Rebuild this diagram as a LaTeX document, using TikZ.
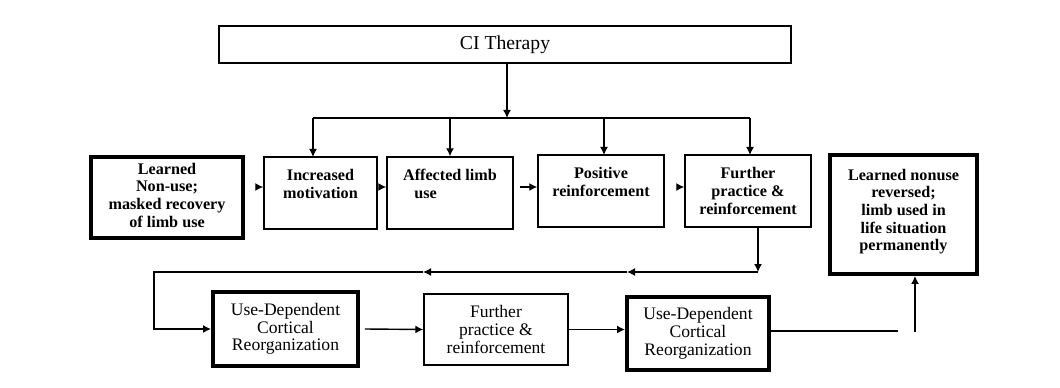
\documentclass[tikz,border=0pt]{standalone}
\usepackage{fontspec}
\setmainfont{Liberation Serif}
\usetikzlibrary{positioning,arrows.meta}
\begin{document}
\begin{tikzpicture}[x=0.025cm,y=-0.025cm]
        \tikzset{box/.style={draw,line width=1pt,align=center,inner sep=0pt},
                 heavy/.style={box,line width=2.8pt},
                 bfont/.style={font=\fontsize{11.5}{12.6}\selectfont\bfseries},
                 rfont/.style={font=\fontsize{12.5}{12.6}\selectfont},
                 arr/.style={line width=1pt,-{Latex[length=2mm,width=2mm]}}};
        \useasboundingbox (0,0) rectangle (1060,388);
        % top of the diagram
        \node[box,minimum width=14.3cm,minimum height=0.925cm,font=\fontsize{14}{15}\selectfont] (ci) at (505,44.5) {CI Therapy};
        \node[heavy,bfont,minimum width=3.8cm,minimum height=2.025cm] (lnu) at (167,197.5) {~\\[-8pt]Learned\\Non-use;\\masked recovery\\of limb use};
        \node[box,bfont,minimum width=2.825cm,minimum height=1.8cm] (inc) at (320.5,193) {Increased\\motivation\\~};
        \node[box,bfont,minimum width=3.15cm,minimum height=1.8cm,align=left] (aff) at (450,193) {Affected limb\\\hspace*{0.7em}use\\~};
        \node[box,bfont,minimum width=3.15cm,minimum height=1.8cm] (pos) at (601,191) {Positive\\reinforcement\\~};
        \node[box,bfont,minimum width=3.15cm,minimum height=1.8cm] (fpr) at (748,191) {Further\\practice \&\\reinforcement};
        \node[heavy,bfont,minimum width=3.675cm,minimum height=2.975cm] (rev) at (903.5,214.5) {Learned nonuse\\reversed;\\limb used in\\life situation\\permanently\\[-6pt]~};
        % bottom row
        \node[heavy,rfont,minimum width=3.625cm,minimum height=1.85cm] (udc1) at (285.5,329) {Use-Dependent\\Cortical\\Reorganization};
        \node[box,rfont,minimum width=3.6cm,minimum height=1.775cm] (fp2) at (496,329.5) {Further\\practice \&\\reinforcement};
        \node[heavy,rfont,minimum width=3.55cm,minimum height=1.825cm] (udc2) at (698,333.5) {Use-Dependent\\Cortical\\Reorganization};
        % branching from CI Therapy
        \coordinate (split) at (507,118);
        \draw[arr] (ci.south -| split) -- (split);
        \draw[line width=1pt] (313,118) -- (750,118);
        \draw[arr] (313,118) -- (313,157);
        \draw[arr] (450,118) -- (aff.north);
        \draw[arr] (604,118) -- (604,155);
        \draw[arr] (750,118) -- (750,155);
        % first row
        \coordinate (r1) at (0,187);
        \draw[arr] ([xshift=0.3cm]lnu.east |- r1) -- (inc.west |- r1);
        \draw[arr] ([xshift=0.15cm]inc.east |- r1) -- (aff.west |- r1);
        \draw[arr] ([xshift=0.15cm]aff.east |- r1) -- (pos.west |- r1);
        \draw[arr] ([xshift=0.3cm]pos.east |- r1) -- (fpr.west |- r1);
        % loop back
        \coordinate (loopR) at (758,272);
        \coordinate (midA) at (627,272);
        \coordinate (midB) at (423,272);
        \coordinate (loopL) at (154,272);
        \draw[arr] (loopR |- fpr.south) -- (loopR);
        \draw[arr] (loopR) -- (midA);
        \draw[arr] (midA) -- (midB);
        \draw[arr] (midB) -- (loopL) |- (udc1.west);
        % second row
        \draw[arr] ([xshift=0.125cm]udc1.east) -- (fp2.west);
        \draw[arr] (fp2.east) -- (fp2.east -| udc2.west);
        \coordinate (endA) at (898,331);
        \coordinate (endB) at (915,332);
        \draw[line width=1pt] (udc2.east |- endA) -- (endA);
        \draw[arr] (endB) -- (endB |- rev.south);
    \end{tikzpicture}
\end{document}
